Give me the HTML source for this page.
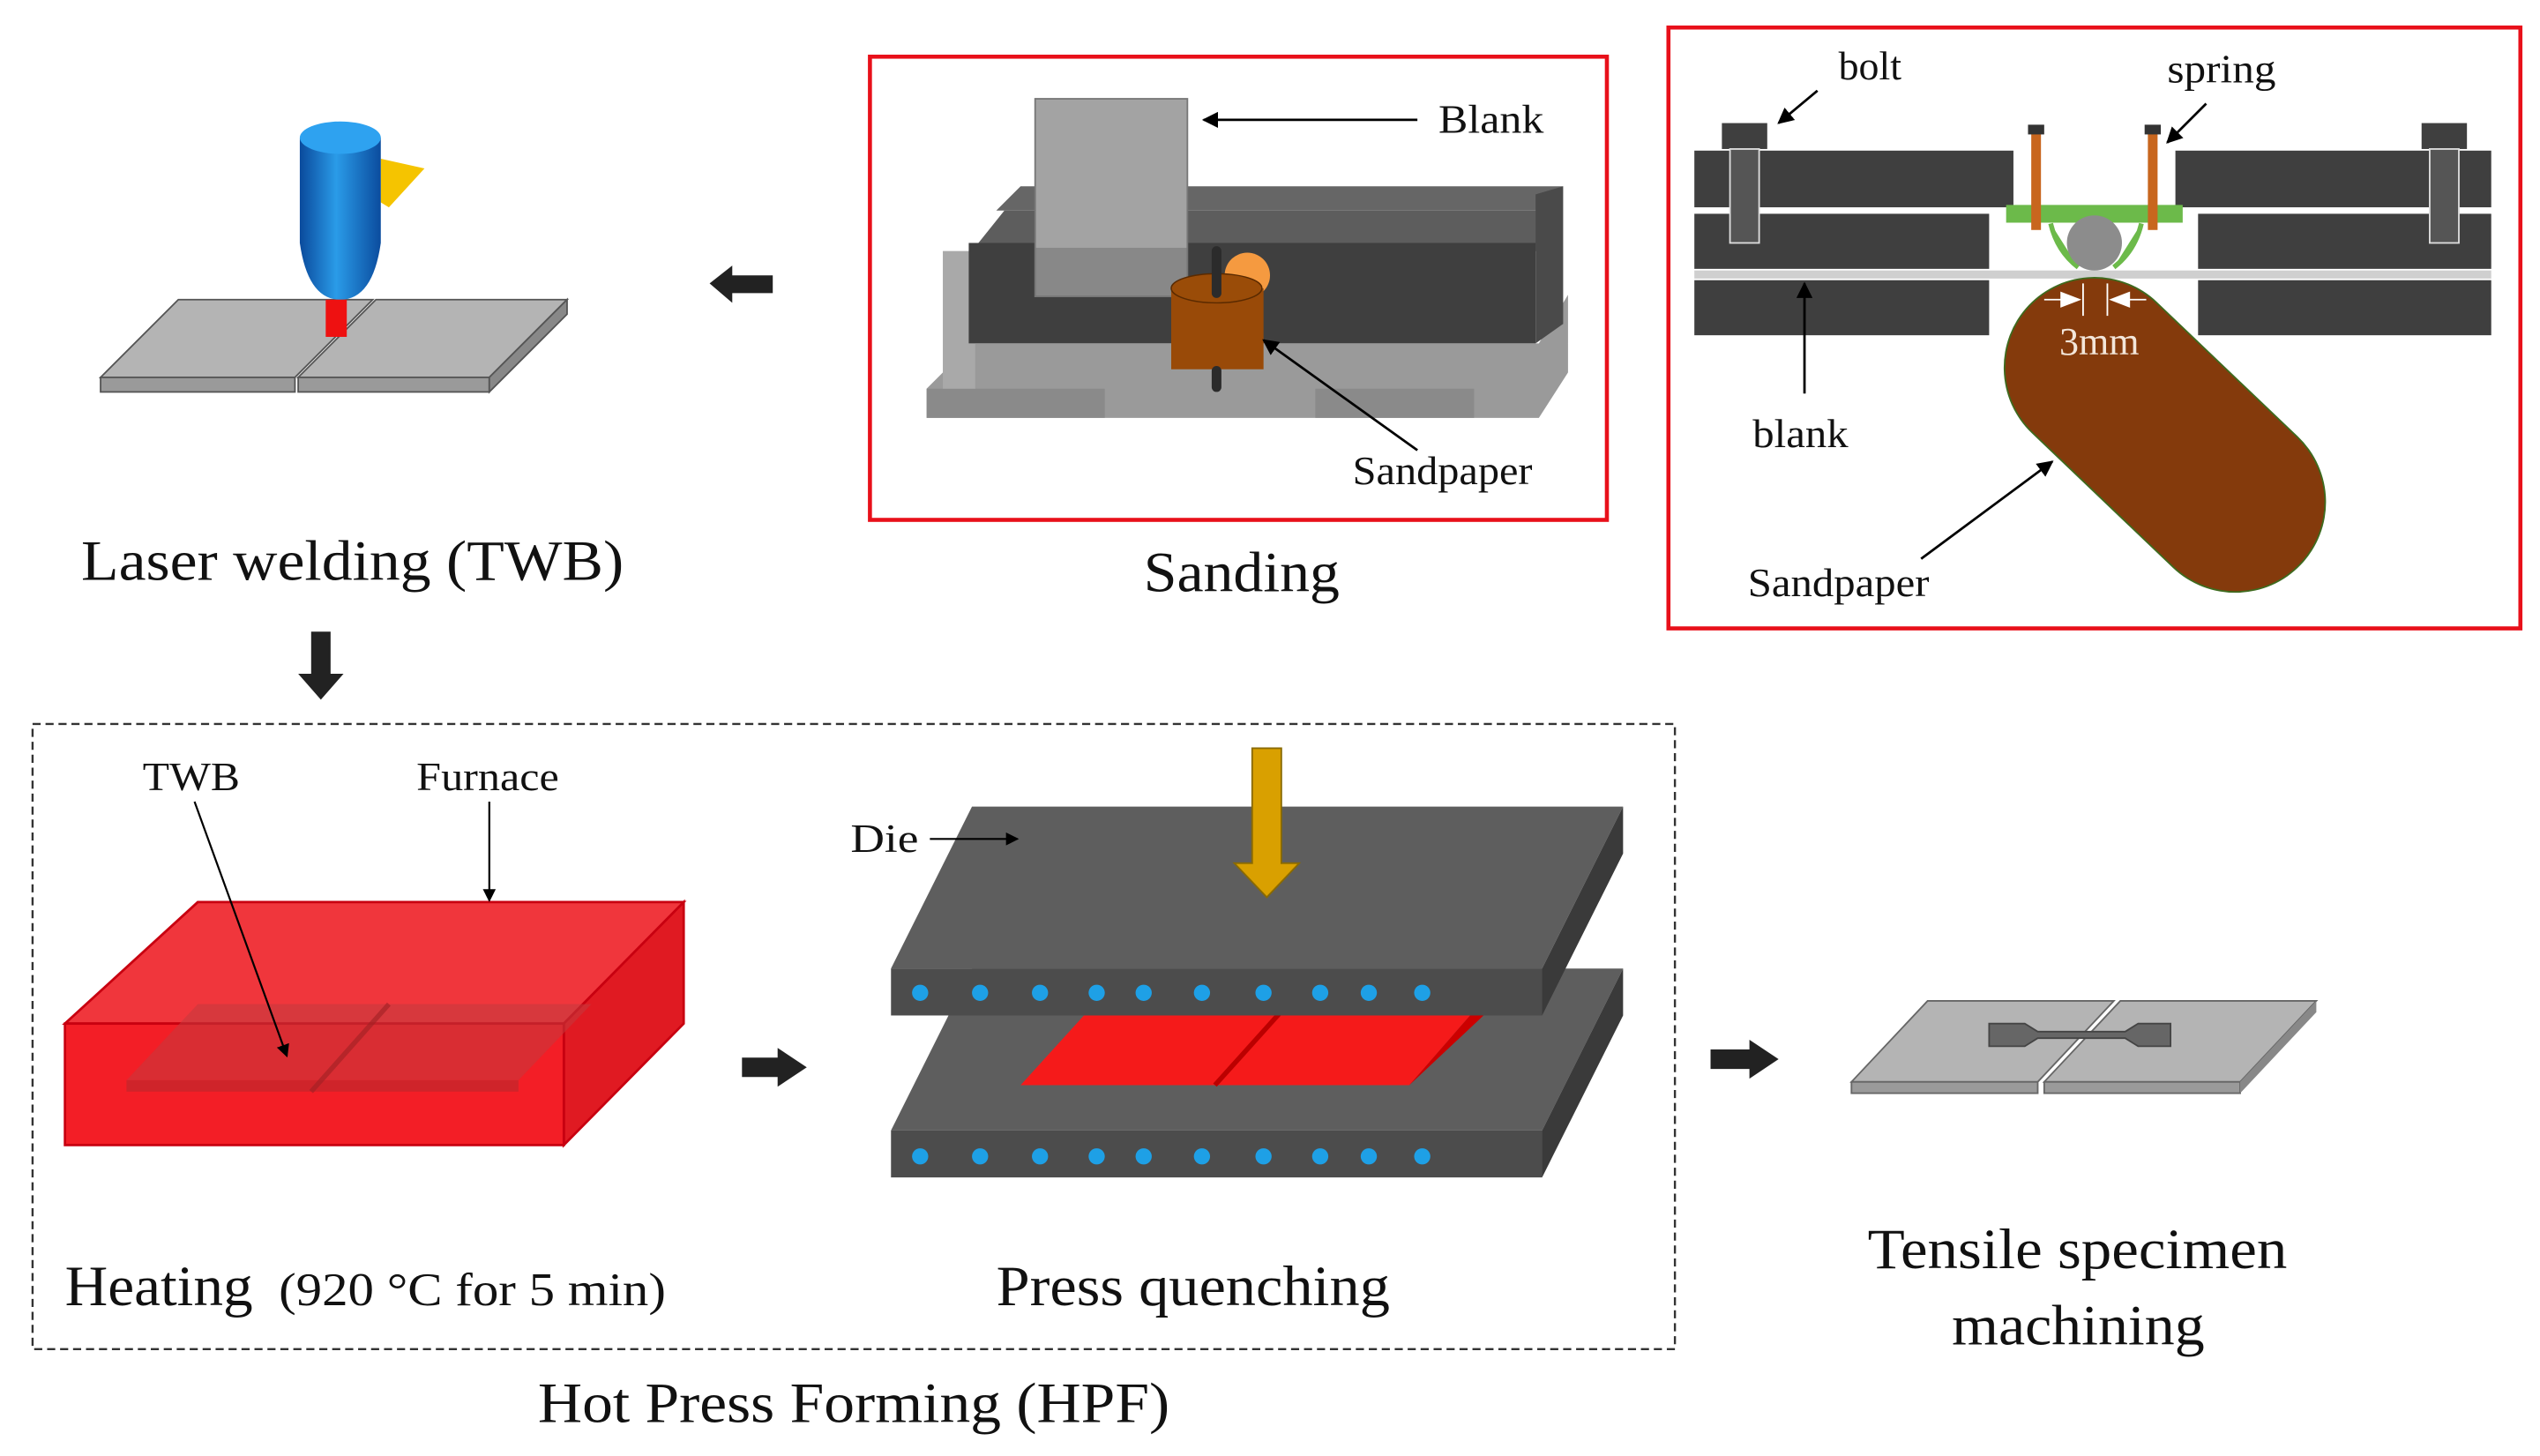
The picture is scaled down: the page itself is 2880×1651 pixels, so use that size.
<!DOCTYPE html>
<html><head><meta charset="utf-8"><style>
html,body{margin:0;padding:0;background:#fff;}
svg{display:block;}
text{font-family:"Liberation Serif",serif;fill:#111;}
</style></head><body>
<svg width="2880" height="1651" viewBox="0 0 1568 899" xmlns="http://www.w3.org/2000/svg">
<defs>
<marker id="ah" markerWidth="10" markerHeight="10" refX="9" refY="5" orient="auto" markerUnits="userSpaceOnUse"><path d="M0,0 L10,5 L0,10 z" fill="#000"/></marker>
<marker id="ahs" markerWidth="8" markerHeight="8" refX="7" refY="4" orient="auto" markerUnits="userSpaceOnUse"><path d="M0,0 L8,4 L0,8 z" fill="#000"/></marker>
<linearGradient id="blue" x1="0" x2="1"><stop offset="0" stop-color="#0a4a9c"/><stop offset="0.45" stop-color="#2a9be8"/><stop offset="1" stop-color="#0b4c9e"/></linearGradient>
</defs>

<!-- Laser welding -->
<polygon points="62,233 182,233 230,185 110,185" fill="#b4b4b4" stroke="#555" stroke-width="1"/>
<rect x="62" y="233" width="120" height="9" fill="#9a9a9a" stroke="#555" stroke-width="1"/>
<polygon points="184,233 302,233 350,185 232,185" fill="#b4b4b4" stroke="#555" stroke-width="1"/>
<rect x="184" y="233" width="118" height="9" fill="#9a9a9a" stroke="#555" stroke-width="1"/>
<polygon points="302,233 350,185 350,194 302,242" fill="#888" stroke="#555" stroke-width="1"/>
<polygon points="235,98 262,104 240,128 235,125" fill="#f5c400"/>
<path d="M185,85 L185,150 Q190,185 210,185 Q230,185 235,150 L235,85 Z" fill="url(#blue)"/>
<ellipse cx="210" cy="85" rx="25" ry="10" fill="#2ea2f0"/>
<rect x="201" y="185" width="13" height="23" fill="#ee1111"/>
<text x="50" y="358" font-size="35" textLength="335" lengthAdjust="spacingAndGlyphs">Laser welding (TWB)</text>

<!-- left arrow -->
<polygon points="438,175 452,164 452,170 477,170 477,181 452,181 452,187" fill="#222"/>

<!-- Sanding -->
<rect x="537" y="35" width="455" height="286" fill="none" stroke="#e8101a" stroke-width="2.5"/>
<polygon points="572,240 600,212 950,212 968,182 968,230 950,258 572,258" fill="#9a9a9a"/>
<rect x="572" y="240" width="110" height="18" fill="#8a8a8a"/>
<rect x="812" y="240" width="98" height="18" fill="#8a8a8a"/>
<rect x="582" y="155" width="20" height="85" fill="#a9a9a9"/>
<polygon points="600,155 620,130 950,130 950,155" fill="#5d5d5d"/>
<polygon points="615,130 630,115 965,115 950,130" fill="#666"/>
<rect x="598" y="150" width="350" height="62" fill="#3f3f3f"/>
<polygon points="948,120 965,115 965,200 948,212" fill="#4a4a4a"/>
<rect x="639" y="61" width="94" height="122" fill="#a3a3a3" stroke="#777" stroke-width="1"/>
<rect x="639" y="153" width="94" height="30" fill="#777" opacity="0.6"/>
<circle cx="770" cy="170" r="14" fill="#f59a40"/>
<rect x="723" y="178" width="57" height="50" fill="#994a08"/>
<ellipse cx="751" cy="178" rx="28" ry="9" fill="#9a4c08" stroke="#5a2a00" stroke-width="0.8"/>
<rect x="748" y="152" width="6" height="32" rx="3" fill="#2b2b2b"/>
<rect x="748" y="226" width="6" height="16" rx="3" fill="#2b2b2b"/>
<line x1="875" y1="74" x2="743" y2="74" stroke="#000" stroke-width="1.5" marker-end="url(#ah)"/>
<text x="888" y="82" font-size="25" textLength="65" lengthAdjust="spacingAndGlyphs">Blank</text>
<line x1="875" y1="278" x2="780" y2="210" stroke="#000" stroke-width="1.5" marker-end="url(#ah)"/>
<text x="835" y="299" font-size="25" textLength="111" lengthAdjust="spacingAndGlyphs">Sandpaper</text>
<text x="706" y="365" font-size="35" textLength="121" lengthAdjust="spacingAndGlyphs">Sanding</text>

<!-- Right jig -->
<rect x="1030" y="17" width="526" height="371" fill="none" stroke="#e8101a" stroke-width="2.5"/>
<rect x="1046" y="93" width="197" height="35" fill="#3f3f3f"/>
<rect x="1046" y="132" width="182" height="34" fill="#3f3f3f"/>
<rect x="1046" y="173" width="182" height="34" fill="#3f3f3f"/>
<rect x="1343" y="93" width="195" height="35" fill="#3f3f3f"/>
<rect x="1357" y="132" width="181" height="34" fill="#3f3f3f"/>
<rect x="1357" y="173" width="181" height="34" fill="#3f3f3f"/>
<rect x="1046" y="167" width="492" height="5" fill="#cfcfcf"/>
<rect x="1063" y="76" width="28" height="16" fill="#3f3f3f"/>
<rect x="1068" y="92" width="18" height="58" fill="#555" stroke="#ddd" stroke-width="1"/>
<rect x="1495" y="76" width="28" height="16" fill="#3f3f3f"/>
<rect x="1500" y="92" width="18" height="58" fill="#555" stroke="#ddd" stroke-width="1"/>
<path d="M1240,136 L1346,136 L1346,128 L1240,128 Z M1266,138 Q1270,155 1283,165 M1322,138 Q1318,155 1305,165" fill="#6cba4a" stroke="#6cba4a" stroke-width="3"/>
<rect x="1254" y="80" width="6" height="62" fill="#c8661e"/>
<rect x="1326" y="80" width="6" height="62" fill="#c8661e"/>
<rect x="1252" y="77" width="10" height="6" fill="#333"/>
<rect x="1324" y="77" width="10" height="6" fill="#333"/>
<ellipse cx="1293" cy="150" rx="17" ry="17" fill="#8c8c8c"/>
<line x1="1293" y1="227" x2="1380" y2="310" stroke="#3e6a1e" stroke-width="112" stroke-linecap="round"/>
<line x1="1293" y1="227" x2="1380" y2="310" stroke="#843a0c" stroke-width="110" stroke-linecap="round"/>
<line x1="1286" y1="175" x2="1286" y2="195" stroke="#fff" stroke-width="1"/>
<line x1="1301" y1="175" x2="1301" y2="195" stroke="#fff" stroke-width="1"/>
<polygon points="1285,185 1272,180 1272,190" fill="#fff"/><line x1="1262" y1="185" x2="1273" y2="185" stroke="#fff"/>
<polygon points="1302,185 1315,180 1315,190" fill="#fff"/><line x1="1314" y1="185" x2="1325" y2="185" stroke="#fff"/>
<text x="1296" y="219" font-size="24" text-anchor="middle" style="fill:#f3e6da">3mm</text>
<text x="1135" y="49" font-size="25">bolt</text>
<line x1="1122" y1="56" x2="1098" y2="76" stroke="#000" stroke-width="1.5" marker-end="url(#ah)"/>
<text x="1338" y="51" font-size="25" textLength="67" lengthAdjust="spacingAndGlyphs">spring</text>
<line x1="1362" y1="64" x2="1338" y2="88" stroke="#000" stroke-width="1.5" marker-end="url(#ah)"/>
<line x1="1114" y1="243" x2="1114" y2="175" stroke="#000" stroke-width="1.5" marker-end="url(#ah)"/>
<text x="1082" y="276" font-size="25" textLength="59" lengthAdjust="spacingAndGlyphs">blank</text>
<line x1="1186" y1="345" x2="1267" y2="285" stroke="#000" stroke-width="1.5" marker-end="url(#ah)"/>
<text x="1079" y="368" font-size="25" textLength="112" lengthAdjust="spacingAndGlyphs">Sandpaper</text>

<!-- down arrow -->
<polygon points="192,390 204,390 204,416 212,416 198,432 184,416 192,416" fill="#222"/>

<!-- HPF box -->
<rect x="20" y="447" width="1014" height="386" fill="none" stroke="#333" stroke-width="1.3" stroke-dasharray="5,3"/>

<!-- Furnace -->
<polygon points="40,632 122,557 422,557 348,632" fill="#f0363c" stroke="#c80010" stroke-width="1.5"/>
<polygon points="348,632 422,557 422,632 348,707" fill="#e01a22" stroke="#c80010" stroke-width="1.5"/>
<rect x="40" y="632" width="308" height="75" fill="#f31e26" stroke="#c80010" stroke-width="1.5"/>
<polygon points="78,667 122,620 365,620 320,667" fill="#c23a3e" opacity="0.55"/>
<rect x="78" y="667" width="242" height="7" fill="#b02a2e" opacity="0.55"/>
<line x1="192" y1="674" x2="240" y2="620" stroke="#a02024" opacity="0.6" stroke-width="3"/>
<text x="88" y="488" font-size="25" textLength="60" lengthAdjust="spacingAndGlyphs">TWB</text>
<line x1="120" y1="495" x2="177" y2="652" stroke="#000" stroke-width="1.2" marker-end="url(#ahs)"/>
<text x="257" y="488" font-size="25" textLength="88" lengthAdjust="spacingAndGlyphs">Furnace</text>
<line x1="302" y1="495" x2="302" y2="556" stroke="#000" stroke-width="1.2" marker-end="url(#ahs)"/>
<text x="40" y="806" font-size="35" textLength="116" lengthAdjust="spacingAndGlyphs">Heating</text>
<text x="172" y="806" font-size="29" textLength="239" lengthAdjust="spacingAndGlyphs">(920 °C for 5 min)</text>

<polygon points="458,653 480,653 480,647 498,659 480,671 480,665 458,665" fill="#222"/>

<!-- Press -->
<polygon points="550,698 600,598 1002,598 952,698" fill="#5e5e5e"/>
<polygon points="952,698 1002,598 1002,627 952,727" fill="#3a3a3a"/>
<rect x="550" y="698" width="402" height="29" fill="#4c4c4c"/>
<polygon points="630,670 680,615 918,615 870,670" fill="#f51a1a"/>
<polygon points="870,670 918,615 918,625 870,670" fill="#c00"/>
<line x1="750" y1="670" x2="795" y2="620" stroke="#b00" stroke-width="3"/>
<polygon points="550,598 600,498 1002,498 952,598" fill="#5e5e5e"/>
<polygon points="952,598 1002,498 1002,527 952,627" fill="#3a3a3a"/>
<rect x="550" y="598" width="402" height="29" fill="#4c4c4c"/>
<g fill="#1ea0e6">
<circle cx="568" cy="613" r="5"/><circle cx="605" cy="613" r="5"/><circle cx="642" cy="613" r="5"/><circle cx="677" cy="613" r="5"/><circle cx="706" cy="613" r="5"/><circle cx="742" cy="613" r="5"/><circle cx="780" cy="613" r="5"/><circle cx="815" cy="613" r="5"/><circle cx="845" cy="613" r="5"/><circle cx="878" cy="613" r="5"/>
<circle cx="568" cy="714" r="5"/><circle cx="605" cy="714" r="5"/><circle cx="642" cy="714" r="5"/><circle cx="677" cy="714" r="5"/><circle cx="706" cy="714" r="5"/><circle cx="742" cy="714" r="5"/><circle cx="780" cy="714" r="5"/><circle cx="815" cy="714" r="5"/><circle cx="845" cy="714" r="5"/><circle cx="878" cy="714" r="5"/>
</g>
<polygon points="773,462 791,462 791,533 802,533 782,554 762,533 773,533" fill="#d9a000" stroke="#8a6a00" stroke-width="1"/>
<text x="525" y="526" font-size="25" textLength="42" lengthAdjust="spacingAndGlyphs">Die</text>
<line x1="574" y1="518" x2="628" y2="518" stroke="#000" stroke-width="1.2" marker-end="url(#ahs)"/>
<text x="615" y="806" font-size="35" textLength="243" lengthAdjust="spacingAndGlyphs">Press quenching</text>
<text x="332" y="878" font-size="35" textLength="390" lengthAdjust="spacingAndGlyphs">Hot Press Forming (HPF)</text>

<polygon points="1056,648 1080,648 1080,642 1098,654 1080,666 1080,660 1056,660" fill="#222"/>

<!-- Tensile -->
<polygon points="1143,668 1258,668 1305,618 1190,618" fill="#b4b4b4" stroke="#666" stroke-width="1"/>
<rect x="1143" y="668" width="115" height="7" fill="#9a9a9a" stroke="#666" stroke-width="1"/>
<polygon points="1262,668 1383,668 1430,618 1309,618" fill="#b4b4b4" stroke="#666" stroke-width="1"/>
<rect x="1262" y="668" width="121" height="7" fill="#9a9a9a" stroke="#666" stroke-width="1"/>
<polygon points="1383,668 1430,618 1430,625 1383,675" fill="#888"/>
<path d="M1228,632 L1250,632 L1258,637 L1312,637 L1320,632 L1340,632 L1340,646 L1320,646 L1312,641 L1258,641 L1250,646 L1228,646 Z" fill="#666" stroke="#444" stroke-width="1"/>
<text x="1153" y="783" font-size="35" textLength="259" lengthAdjust="spacingAndGlyphs">Tensile specimen</text>
<text x="1205" y="830" font-size="35" textLength="156" lengthAdjust="spacingAndGlyphs">machining</text>
</svg>
</body></html>
